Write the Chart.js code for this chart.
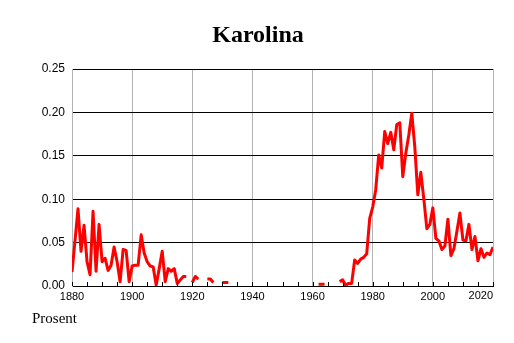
<!DOCTYPE html>
<html lang="no">
<head>
    <meta charset="UTF-8">
    <title>Karolina</title>
    <script src="https://cdn.jsdelivr.net/npm/chart.js"></script>
    <style>
        body {
            margin: 0;
            padding: 0;
            background-color: #ffffff;
        }
        #navnChart {
            display: block;
        }
    </style>
</head>
<body>

    <canvas id="navnChart" width="514" height="343"></canvas>

    <script>
        // Data: andel (prosent) per år, null = ingen data
        const tittel = 'Karolina';
        const yAkseTekst = 'Prosent';
        const forsteAar = 1880;
        const yTicks = [0.00, 0.05, 0.10, 0.15, 0.20, 0.25];
        const xTicks = [1880, 1900, 1920, 1940, 1960, 1980, 2000, 2020];

        const andel1880 = [
            0.016, 0.052, 0.089, 0.040, 0.070, 0.028, 0.013, 0.086, 0.017, 0.071,
            0.028, 0.032, 0.018, 0.024, 0.045, 0.028, 0.005, 0.042, 0.041, 0.005
        ];
        const andel1900 = [
            0.023, 0.024, 0.024, 0.059, 0.038, 0.028, 0.023, 0.022, 0.001, 0.020,
            0.040, 0.005, 0.020, 0.017, 0.020, 0.003, 0.007, 0.011, 0.011, null
        ];
        const andel1920 = [
            0.004, 0.011, 0.008, null, null, 0.008, 0.008, 0.004, null, null,
            0.004, 0.004, 0.004, null, null, null, null, null, null, null
        ];
        const andel1940 = [
            null, null, null, null, null, null, null, null, null, null,
            null, null, null, null, null, null, null, null, null, null
        ];
        const andel1960 = [
            null, null, 0.002, 0.002, 0.002, null, null, null, null, 0.005,
            0.007, 0.001, 0.003, 0.003, 0.030, 0.026, 0.031, 0.033, 0.037, 0.078
        ];
        const andel1980 = [
            0.091, 0.111, 0.151, 0.136, 0.178, 0.164, 0.177, 0.157, 0.186, 0.188,
            0.126, 0.153, 0.174, 0.199, 0.160, 0.105, 0.131, 0.100, 0.066, 0.071
        ];
        const andel2000 = [
            0.090, 0.055, 0.052, 0.042, 0.046, 0.077, 0.035, 0.043, 0.063, 0.084,
            0.053, 0.052, 0.071, 0.042, 0.057, 0.029, 0.043, 0.033, 0.038, 0.036,
            0.045
        ];

        const andel = [].concat(andel1880, andel1900, andel1920, andel1940, andel1960, andel1980, andel2000);
        const punkter = andel.map((v, i) => ({ x: forsteAar + i, y: v }));

        const tekstFont = '"Liberation Sans", Arial, sans-serif';

        // Tittel, aksetekst, siste årstall og små merker langs x-aksen
        const ekstraTegning = {
            id: 'ekstraTegning',
            afterDraw(chart) {
                const c = chart.ctx;
                const xs = chart.scales.x;
                const bunn = chart.chartArea.bottom;
                c.save();
                c.strokeStyle = '#000000';
                c.lineWidth = 1;
                for (let aar = xs.min; aar <= xs.max; aar += 5) {
                    const px = Math.round(xs.getPixelForValue(aar)) + 0.5;
                    c.beginPath();
                    c.moveTo(px, bunn);
                    c.lineTo(px, bunn - 4);
                    c.stroke();
                }
                c.fillStyle = '#000000';

                c.font = 'bold 24px "Liberation Serif", serif';
                c.textAlign = 'center';
                c.textBaseline = 'alphabetic';
                c.fillText(tittel, 258, 42);

                c.font = '11px ' + tekstFont;
                c.textAlign = 'right';
                c.textBaseline = 'top';
                c.fillText(String(xTicks[xTicks.length - 1]), xs.right, bunn + 4);

                c.font = '15px "Liberation Serif", serif';
                c.textBaseline = 'alphabetic';
                c.textAlign = 'left';
                c.fillText(yAkseTekst, 32, 323);
                c.restore();
            }
        };

        const ctx = document.getElementById('navnChart').getContext('2d');
        const navnChart = new Chart(ctx, {
            type: 'line',
            data: {
                datasets: [{
                    label: tittel,
                    data: punkter,
                    borderColor: '#ff0000',
                    backgroundColor: '#ff0000',
                    borderWidth: 3,
                    borderJoinStyle: 'round',
                    pointRadius: 0,
                    tension: 0,
                    spanGaps: false,
                    fill: false
                }]
            },
            options: {
                responsive: false,
                animation: false,
                devicePixelRatio: 1,
                layout: {
                    padding: { top: 69, left: 0, right: 21, bottom: 0 }
                },
                plugins: {
                    legend: { display: false },
                    tooltip: { enabled: false },
                    title: { display: false }
                },
                scales: {
                    x: {
                        type: 'linear',
                        min: 1880,
                        max: 2020,
                        afterBuildTicks: (scale) => {
                            scale.ticks = xTicks.map(v => ({ value: v }));
                        },
                        afterFit: (scale) => { scale.height = 57; },
                        grid: {
                            color: '#b4b4b4',
                            lineWidth: 1,
                            drawTicks: false
                        },
                        border: { color: '#000000', width: 1 },
                        ticks: {
                            color: '#000000',
                            padding: 4,
                            maxRotation: 0,
                            font: { family: tekstFont, size: 11 },
                            // siste etikett tegnes høyrejustert i ekstraTegning
                            callback: (v) => (v === xTicks[xTicks.length - 1] ? '' : String(v))
                        }
                    },
                    y: {
                        min: 0,
                        max: 0.25,
                        afterBuildTicks: (scale) => {
                            scale.ticks = yTicks.map(v => ({ value: v }));
                        },
                        afterFit: (scale) => { scale.width = 72; },
                        grid: {
                            color: '#000000',
                            lineWidth: 1,
                            drawTicks: false
                        },
                        border: { color: '#b4b4b4', width: 1 },
                        ticks: {
                            color: '#000000',
                            padding: 7,
                            font: { family: tekstFont, size: 12 },
                            callback: (v) => v.toFixed(2)
                        }
                    }
                }
            },
            plugins: [ekstraTegning]
        });
    </script>

</body>
</html>
